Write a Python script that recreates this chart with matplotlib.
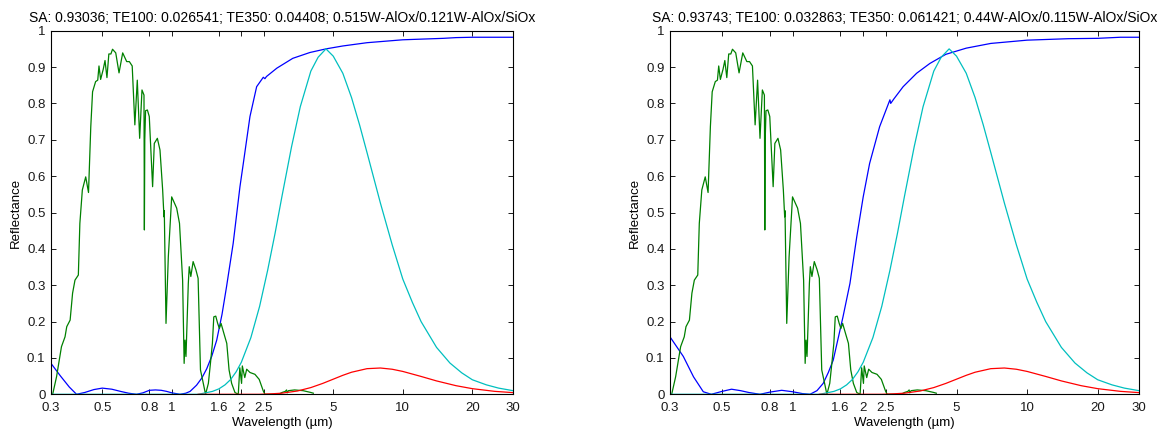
import matplotlib
matplotlib.use("Agg")
import matplotlib.pyplot as plt
from matplotlib.ticker import FixedLocator, FixedFormatter, NullLocator

plt.rcParams['font.family'] = ['Liberation Sans', 'DejaVu Sans']

# ---------------- data ----------------
titles = [
    "SA: 0.93036; TE100: 0.026541; TE350: 0.04408; 0.515W-AlOx/0.121W-AlOx/SiOx",
    "SA: 0.93743; TE100: 0.032863; TE350: 0.061421; 0.44W-AlOx/0.115W-AlOx/SiOx",
]

xtick_vals = [0.3, 0.5, 0.8, 1, 1.6, 2, 2.5, 5, 10, 20, 30]
xtick_labels = ["0.3", "0.5", "0.8", "1", "1.6", "2", "2.5", "5", "10", "20", "30"]
ytick_vals = [0, 0.1, 0.2, 0.3, 0.4, 0.5, 0.6, 0.7, 0.8, 0.9, 1]
ytick_labels = ["0", "0.1", "0.2", "0.3", "0.4", "0.5", "0.6", "0.7", "0.8", "0.9", "1"]

# reflectance, left coating
refl_left_wl = [0.3, 0.33, 0.36, 0.387, 0.42, 0.46, 0.5, 0.55, 0.6, 0.65, 0.704, 0.75,
                0.8, 0.85, 0.9, 0.95, 1.0, 1.085, 1.15, 1.2, 1.28, 1.35, 1.416, 1.49,
                1.565, 1.65, 1.726, 1.844, 1.973, 2.04, 2.18, 2.33, 2.49, 2.53, 2.57,
                2.85, 3.34, 3.96, 4.65, 5.5, 7, 10, 15, 17, 20, 30]
refl_left = [0.085, 0.05, 0.02, 0.0, 0.005, 0.013, 0.017, 0.014, 0.008, 0.003, 0.0, 0.004,
             0.011, 0.012, 0.011, 0.008, 0.004, 0.0, 0.003, 0.008, 0.025, 0.045, 0.07, 0.105,
             0.149, 0.22, 0.296, 0.415, 0.571, 0.635, 0.764, 0.846, 0.872, 0.868, 0.874,
             0.897, 0.924, 0.94, 0.95, 0.958, 0.967, 0.975, 0.979, 0.981, 0.982, 0.982]

# reflectance, right coating
refl_right_wl = [0.3, 0.342, 0.378, 0.416, 0.45, 0.5, 0.549, 0.6, 0.65, 0.726, 0.8, 0.898,
                 1.0, 1.1, 1.186, 1.27, 1.35, 1.42, 1.49, 1.64, 1.756, 1.877, 2.0, 2.13,
                 2.35, 2.6, 2.62, 2.7, 2.96, 3.38, 3.85, 4.5, 5.5, 7, 10, 15, 20, 25, 30]
refl_right = [0.158, 0.104, 0.048, 0.007, 0.0, 0.008, 0.014, 0.01, 0.005, 0.0, 0.006, 0.011,
              0.007, 0.002, 0.0, 0.01, 0.03, 0.06, 0.094, 0.213, 0.305, 0.433, 0.543, 0.635,
              0.736, 0.81, 0.80, 0.812, 0.846, 0.883, 0.91, 0.935, 0.952, 0.965, 0.974, 0.978,
              0.979, 0.982, 0.982]

# normalised solar spectrum (same in both panels)
solar_wl = [0.3, 0.305, 0.317, 0.333, 0.345, 0.351, 0.363, 0.372, 0.381, 0.394, 0.400, 0.410,
            0.424, 0.436, 0.446, 0.454, 0.468, 0.478, 0.484, 0.492, 0.505, 0.514, 0.524,
            0.534, 0.545, 0.554, 0.572, 0.591, 0.613, 0.638, 0.655, 0.674, 0.692, 0.709,
            0.726, 0.743, 0.758, 0.761, 0.764, 0.770, 0.784, 0.799, 0.826, 0.840, 0.866,
            0.889, 0.913, 0.925, 0.928, 0.944, 0.966, 0.999, 1.050, 1.08, 1.114, 1.131,
            1.141, 1.152, 1.179, 1.190, 1.209, 1.237, 1.271, 1.300, 1.331, 1.369, 1.40,
            1.44, 1.47, 1.499, 1.52, 1.55, 1.58, 1.607, 1.634, 1.68, 1.73, 1.77, 1.816,
            1.877, 1.94, 1.97, 2.005, 2.02, 2.07, 2.11, 2.18, 2.29, 2.39, 2.49, 2.53,
            2.9, 3.0, 3.1, 3.14, 3.16, 3.2, 3.4, 3.7, 4.0, 4.1]
solar = [0.0, 0.0, 0.048, 0.131, 0.158, 0.186, 0.204, 0.278, 0.314, 0.328, 0.470, 0.562,
         0.598, 0.555, 0.736, 0.832, 0.860, 0.864, 0.903, 0.866, 0.894, 0.918, 0.871,
         0.936, 0.936, 0.949, 0.939, 0.884, 0.939, 0.915, 0.915, 0.903, 0.741, 0.864,
         0.704, 0.837, 0.823, 0.452, 0.70, 0.78, 0.782, 0.764, 0.571, 0.690, 0.704,
         0.672, 0.562, 0.488, 0.505, 0.195, 0.378, 0.543, 0.512, 0.470, 0.314, 0.085,
         0.149, 0.104, 0.305, 0.351, 0.324, 0.365, 0.343, 0.319, 0.067, 0.030, 0.0,
         0.03, 0.085, 0.14, 0.213, 0.215, 0.195, 0.181, 0.195, 0.168, 0.14, 0.067, 0.03,
         0.005, 0.0, 0.073, 0.03, 0.078, 0.046, 0.069, 0.06, 0.055, 0.041, 0.009, 0.0,
         0.0, 0.005, 0.008, 0.012, 0.004, 0.01, 0.012, 0.01, 0.005, 0.003]

# normalised blackbody 350 C (cyan)
bb350_wl = [0.3, 1.3, 1.4, 1.5, 1.6, 1.7, 1.8, 1.9, 2.0, 2.2, 2.4, 2.6, 2.8, 3.0, 3.3, 3.6,
            4.0, 4.3, 4.65, 5.0, 5.5, 6.0, 6.5, 7.0, 8.0, 9.0, 10, 11, 12, 14, 16, 18, 20,
            23, 26, 30]
bb350 = [0.0, 0.0, 0.004, 0.008, 0.015, 0.026, 0.041, 0.062, 0.088, 0.156, 0.242, 0.341,
         0.443, 0.545, 0.681, 0.791, 0.889, 0.927, 0.95, 0.930, 0.883, 0.816, 0.741, 0.665,
         0.526, 0.411, 0.317, 0.253, 0.200, 0.129, 0.086, 0.059, 0.040, 0.026, 0.017, 0.010]

# normalised blackbody 100 C (red)
bb100_wl = [1.3, 2.4, 2.7, 3.0, 3.5, 4.0, 4.5, 5.0, 5.5, 6.0, 7.0, 8.0, 9.0, 10, 12, 14, 17,
            20, 25, 30]
bb100 = [0.0, 0.0, 0.0013, 0.0031, 0.0091, 0.0185, 0.0299, 0.0416, 0.0522, 0.0607, 0.0705,
         0.0723, 0.0689, 0.0629, 0.0491, 0.0368, 0.0237, 0.0155, 0.0081, 0.0046]

reflectances = [(refl_left_wl, refl_left), (refl_right_wl, refl_right)]

# ---------------- figure ----------------
fig = plt.figure(figsize=(11.7, 4.34), dpi=100)
axes_rects = [[51 / 1170, 1 - 394.3 / 434, 462 / 1170, 363.6 / 434],
              [670 / 1170, 1 - 394.3 / 434, 469 / 1170, 363.6 / 434]]

lw = 0.9
for rect, title, (rwl, rv) in zip(axes_rects, titles, reflectances):
    ax = fig.add_axes(rect)
    ax.plot(rwl, rv, color='#0000ff', lw=lw)
    ax.plot(solar_wl, solar, color='#008000', lw=lw)
    ax.plot(bb350_wl, bb350, color='#00bfbf', lw=lw)
    ax.plot(bb100_wl, bb100, color='#ff0000', lw=lw)
    ax.set_xscale('log')
    ax.set_xlim(0.3, 30)
    ax.set_ylim(0, 1)
    ax.xaxis.set_major_locator(FixedLocator(xtick_vals))
    ax.xaxis.set_major_formatter(FixedFormatter(xtick_labels))
    ax.xaxis.set_minor_locator(NullLocator())
    ax.yaxis.set_major_locator(FixedLocator(ytick_vals))
    ax.yaxis.set_major_formatter(FixedFormatter(ytick_labels))
    ax.tick_params(direction='in', top=True, right=True, length=3.5, width=0.7,
                   labelsize=9.5, colors='#1a1a1a')
    ax.tick_params(axis='x', pad=5.5)
    ax.tick_params(axis='y', pad=4)
    for s in ax.spines.values():
        s.set_linewidth(0.8)
    ax.set_xlabel("Wavelength (µm)", fontsize=9.5, labelpad=2)
    ax.set_ylabel("Reflectance", fontsize=9.5, labelpad=4)
    ax.set_title(title, fontsize=10, pad=6)

fig.savefig("out.png", dpi=100)
